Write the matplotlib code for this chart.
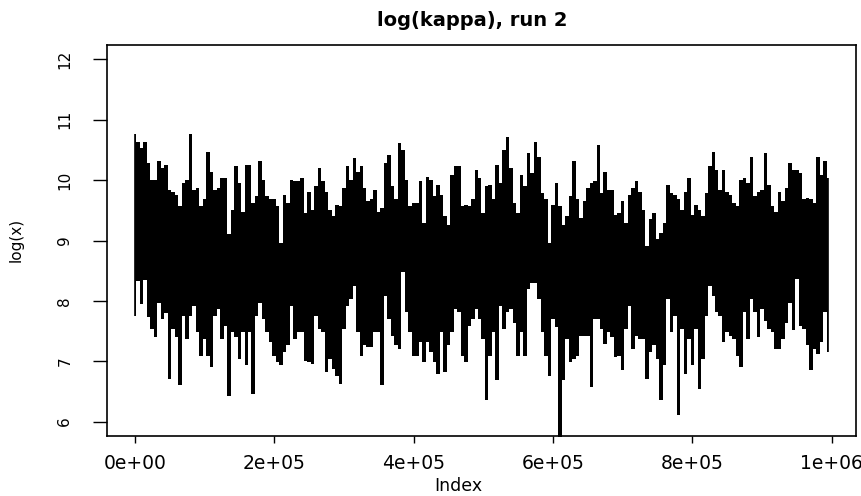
import numpy as np
import matplotlib
matplotlib.use("Agg")
import matplotlib.pyplot as plt

# trace of log(kappa): highest and lowest value seen in each block of 5000 iterations
step = 5000
upper = [10.77, 10.64, 10.53, 10.64, 10.28, 10.0, 10.0, 10.31, 10.2, 10.25,
         9.84, 9.81, 9.76, 9.57, 9.95, 10.0, 10.77, 9.84, 9.87, 9.57,
         9.68, 10.47, 10.14, 9.84, 9.87, 10.03, 10.03, 9.1, 9.51, 10.23,
         9.95, 9.48, 10.25,
         10.25, 9.62, 9.73, 10.31, 10.0, 9.73, 9.68, 9.68, 9.57, 8.96,
         9.76, 9.62, 10.0, 9.98, 9.98, 10.03, 9.46, 9.81, 9.51, 9.9,
         10.2, 9.98, 9.81, 9.51, 9.4, 9.59, 9.57, 9.87, 10.23, 10.0,
         10.36, 10.14, 10.23, 9.87, 9.65,
         9.68, 9.84, 9.48, 9.54, 10.28, 10.42, 9.9, 9.68, 10.61, 10.5,
         10.0, 9.57, 9.62, 9.62, 9.98, 9.29, 10.06, 10.0, 9.73, 9.92,
         9.76, 9.4, 9.26, 10.09, 10.23, 10.23, 9.57, 9.59, 9.57, 9.68,
         10.17, 10.03, 9.46, 9.9,
         9.92, 9.68, 10.25, 9.95, 10.5, 10.72, 10.2, 9.62, 9.46, 10.09,
         9.9, 10.45, 10.12, 10.64, 10.39, 9.79, 9.68, 8.96, 9.59, 9.95,
         9.57, 9.26, 9.4, 9.73, 10.31, 9.68, 9.37, 9.65, 9.87, 9.95,
         9.98, 10.58, 9.79, 10.14, 9.84,
         9.84, 9.43, 9.46, 9.65, 9.29, 9.76, 9.87, 9.98, 9.81, 9.51,
         8.91, 9.35, 9.46, 9.02, 9.13, 9.29, 9.92, 9.79, 9.76, 9.68,
         9.51, 9.81, 10.03, 9.43, 9.59, 9.51, 9.4, 9.79, 10.23, 10.47,
         10.17, 9.84, 10.17, 9.81,
         9.76, 9.62, 9.57, 10.0, 10.03, 9.95, 10.39, 9.73, 9.81, 9.84,
         10.45, 9.92, 9.57, 9.48, 9.81, 9.65, 9.87, 10.28, 10.17, 10.17,
         10.12, 9.68, 9.7, 9.68, 9.62, 10.39, 10.09, 10.31, 10.03]
lower = [7.75, 8.33, 7.95, 8.35, 7.73, 7.53, 7.4, 7.97, 7.7, 7.8,
         6.71, 7.53, 7.4, 6.6, 7.75, 7.37, 7.75, 7.92, 7.48, 7.09,
         7.37, 7.09, 6.9, 7.75, 7.86, 7.37, 7.59, 6.43, 7.48, 7.4,
         7.04, 7.48, 6.93,
         7.48, 6.46, 7.75, 7.97, 7.7, 7.48, 7.31, 7.09, 6.98, 6.93,
         7.15, 7.26, 7.92, 7.37, 7.48, 7.48, 7.01, 6.98, 6.96, 7.75,
         7.53, 7.48, 6.82, 7.04, 6.87, 6.76, 6.63, 7.53, 7.92, 8.03,
         8.25, 7.48, 7.09, 7.26, 7.23,
         7.23, 7.48, 7.48, 6.6, 8.08, 7.7, 7.42, 7.26, 7.2, 8.47,
         7.81, 7.48, 7.09, 7.09, 7.31, 6.98, 7.31, 7.15, 6.98, 6.79,
         7.48, 6.82, 7.26, 7.48, 7.86, 7.81, 7.09, 6.98, 7.59, 7.7,
         7.86, 7.7, 7.37, 6.35,
         7.09, 7.48, 6.68, 7.92, 7.53, 7.81, 7.86, 7.64, 7.09, 7.48,
         7.09, 8.19, 8.3, 8.3, 8.03, 7.48, 7.09, 6.76, 7.7, 7.56,
         5.7, 6.68, 7.37, 6.98, 7.04, 7.09, 7.42, 7.42, 7.42, 6.57,
         7.7, 7.7, 7.53, 7.29, 7.48,
         7.4, 7.07, 7.09, 6.85, 7.53, 7.92, 7.2, 7.42, 7.37, 7.37,
         6.71, 7.15, 7.26, 7.04, 6.35, 6.93, 8.03, 7.48, 7.75, 6.1,
         7.53, 6.79, 7.37, 6.93, 7.53, 6.54, 7.04, 7.75, 8.25, 8.08,
         7.81, 7.75, 7.31, 7.48,
         7.42, 7.37, 7.09, 6.9, 7.81, 7.37, 8.03, 7.81, 7.4, 7.86,
         7.67, 7.53, 7.48, 7.2, 7.2, 7.37, 7.64, 7.97, 7.51, 8.36,
         7.59, 7.53, 7.26, 6.85, 7.2, 7.12, 7.31, 7.81, 7.15]

xticks = [0, 200000, 400000, 600000, 800000, 1000000]
xticklabels = ['0e+00', '2e+05', '4e+05', '6e+05', '8e+05', '1e+06']
yticks = [6, 7, 8, 9, 10, 11, 12]

idx = np.arange(len(upper)) * step
n_iter = idx[-1]

W, H = 862, 496
fig = plt.figure(figsize=(W / 100, H / 100), dpi=100)
ax = fig.add_axes([107 / W, 60 / H, 749 / W, 391 / H])

# each block drawn as a solid column from its min to its max (how a dense trace renders)
ax.fill_between(idx, lower, upper, step='mid', color='black', lw=0)
ax.vlines(idx, lower, upper, color='black', lw=1.2)

# R style 4% padding on both axes
ax.set_xlim(-0.04 * n_iter, 1.04 * n_iter)
ax.set_ylim(6 - 0.04 * 6, 12 + 0.04 * 6)

ax.set_xticks(xticks)
ax.set_xticklabels(xticklabels)
ax.set_yticks(yticks)
ax.set_yticklabels([str(v) for v in yticks], rotation=90, va='center')
ax.tick_params(axis='x', length=5, width=1, labelsize=13.5, pad=8)
ax.tick_params(axis='y', length=10, width=1, labelsize=11, pad=15)
for s in ax.spines.values():
    s.set_linewidth(1.2)

fig.text(472 / W, 1 - 20 / H, 'log(kappa), run 2', ha='center', va='center',
         fontsize=14, fontweight='bold')
fig.text(458 / W, 1 - 486 / H, 'Index', ha='center', va='center', fontsize=12.5)
fig.text(16 / W, 1 - 240 / H, 'log(x)', ha='center', va='center',
         rotation=90, fontsize=11)

fig.savefig('out.png', dpi=100)
